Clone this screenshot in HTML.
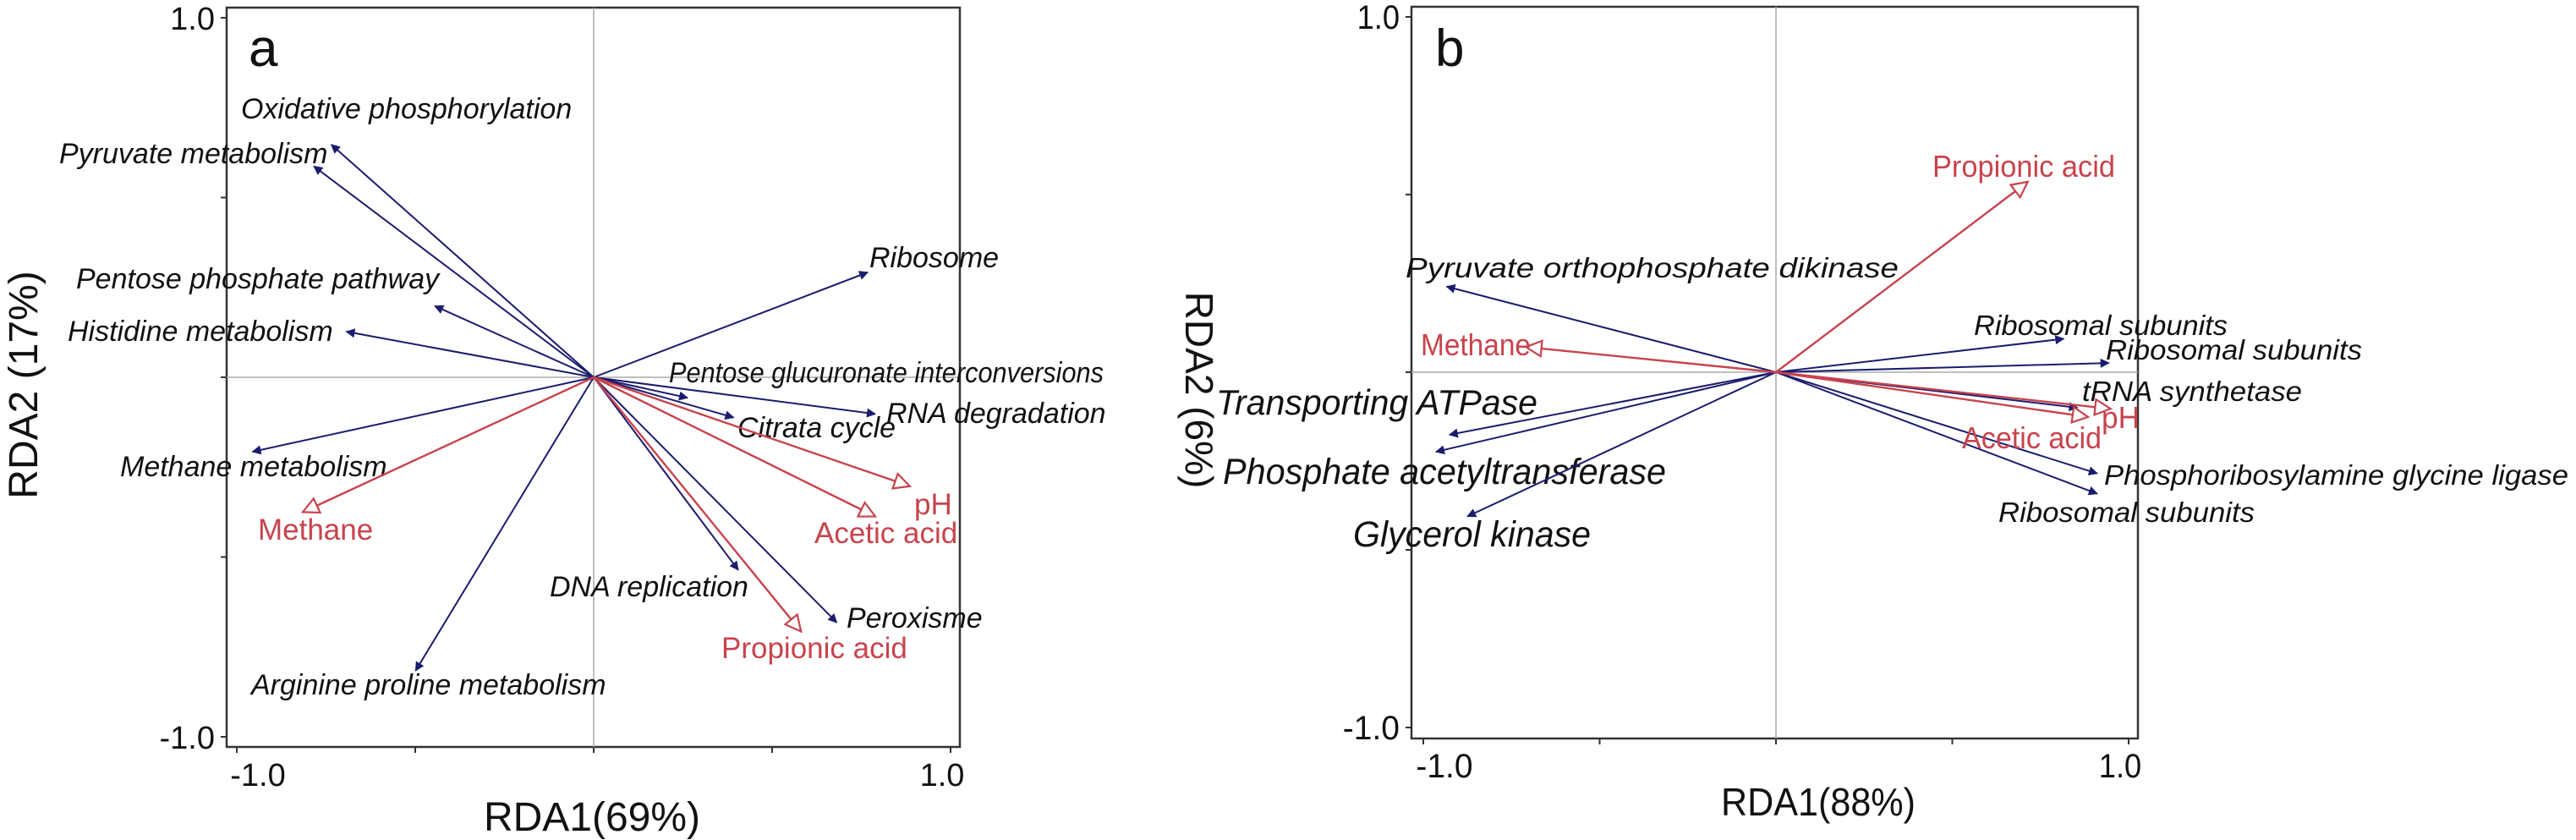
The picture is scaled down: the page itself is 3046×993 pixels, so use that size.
<!DOCTYPE html>
<html><head><meta charset="utf-8"><style>
html,body{margin:0;padding:0;background:#fff;}
svg{display:block;font-family:"Liberation Sans",sans-serif;}
</style></head><body>
<svg id="chart" width="3046" height="993" viewBox="0 0 3046 993" xmlns="http://www.w3.org/2000/svg">
<defs>
<marker id="bh" viewBox="0 0 10 10" refX="9" refY="5" markerWidth="14" markerHeight="11" markerUnits="userSpaceOnUse" orient="auto"><path d="M0,0 L10,5 L0,10 Z" fill="#1c1c6e"/></marker>
<marker id="rh" viewBox="0 0 12 12" refX="11" refY="6" markerWidth="24" markerHeight="22" markerUnits="userSpaceOnUse" orient="auto"><path d="M1,1 L11,6 L1,11 Z" fill="#fff" stroke="#c8434d" stroke-width="1.2"/></marker>
</defs>
</svg>
<script>
// Panel a data
const aBlueNames=["Oxidative phosphorylation","Pyruvate metabolism","Pentose phosphate pathway","Histidine metabolism","Ribosome","Pentose glucuronate interconversions","RNA degradation","Citrata cycle","Methane metabolism","DNA replication","Peroxisme","Arginine proline metabolism"];
const aBlueX=[-0.735,-0.784,-0.445,-0.693,0.768,0.263,0.789,0.392,-0.956,0.405,0.681,-0.499];
const aBlueY=[0.647,0.587,0.198,0.127,0.292,-0.057,-0.102,-0.112,-0.207,-0.536,-0.682,-0.816];
const aRedNames=["Methane","pH","Acetic acid","Propionic acid"];
const aRedX=[-0.815,0.886,0.789,0.581];
const aRedY=[-0.375,-0.303,-0.387,-0.707];
// Panel b data
const bBlueNames=["Pyruvate orthophosphate dikinase","Ribosomal subunits","Ribosomal subunits","tRNA synthetase","Phosphoribosylamine glycine ligase","Ribosomal subunits","Transporting ATPase","Phosphate acetyltransferase","Glycerol kinase"];
const bBlueX=[-0.934,0.816,0.944,0.855,0.911,0.911,-0.926,-0.964,-0.875];
const bBlueY=[0.241,0.094,0.026,-0.100,-0.285,-0.342,-0.176,-0.224,-0.406];
const bRedNames=["Propionic acid","Methane","pH","Acetic acid"];
const bRedX=[0.714,-0.709,0.949,0.885];
const bRedY=[0.536,0.071,-0.103,-0.126];
const tickVals=[-1,-0.5,0,0.5,1];
const tickLabels=["-1.0","1.0"];

// layout (label positions in pixels, not data)
const aBlueLab=[[285,140,0,34],[70,193,0,34],[90,341,0,34],[80,403,0,34],[1028,316,0,34],[791,452,514,34],[1048,500,0,34],[872,517,0,34],[142,563,0,34],[650,705,0,34],[1001,742,0,34],[297,821,0,34]];
const aRedLab=[[305,638,0,35],[1081,608,0,35],[963,642,0,35],[853,778,0,35]];
const bBlueLab=[[1662,328,583,33],[2334,396,300,33],[2490,425,303,33],[2462,474,260,33],[2488,573,549,33],[2363,617,303,33],[1438,490,380,42],[1446,572,524,43],[1600,646,281,43]];
const bRedLab=[[2285,209,216,36],[1680,420,130,36],[2485,506,45,36],[2320,530,165,36]];

const svg=document.getElementById('chart');
const NS='http://www.w3.org/2000/svg';
function mk(tag,attrs,parent){const e=document.createElementNS(NS,tag);for(const k in attrs)e.setAttribute(k,attrs[k]);(parent||svg).appendChild(e);return e;}

function panel(cfg){
  const g=mk('g',{});
  
  
  const sx=v=>cfg.x0+v*cfg.kx, sy=v=>cfg.y0-v*cfg.ky;
  const fr=mk('rect',{x:cfg.L,y:cfg.T,width:cfg.R-cfg.L,height:cfg.B-cfg.T,fill:'none',stroke:'#333','stroke-width':2.5},g);
  
  
  const gx=mk('line',{x1:cfg.L,x2:cfg.R,y1:sy(0),y2:sy(0),stroke:'#aaa','stroke-width':1.5},g);
  
  
  const gy=mk('line',{x1:sx(0),x2:sx(0),y1:cfg.T,y2:cfg.B,stroke:'#aaa','stroke-width':1.5},g);
  
  
  tickVals.forEach(v=>{
    const t1=mk('line',{x1:sx(v),x2:sx(v),y1:cfg.B,y2:cfg.B+7,stroke:'#333','stroke-width':2},g);
    
    
    const t2=mk('line',{x1:cfg.L-7,x2:cfg.L,y1:sy(v),y2:sy(v),stroke:'#333','stroke-width':2},g);
    
    
  });
  const tl=[[cfg.L-14,sy(1)+14,'end',tickLabels[1]],[cfg.L-14,sy(-1)+14,'end',tickLabels[0]],[sx(-1)+25,cfg.B+46,'middle',tickLabels[0]],[sx(1)-10,cfg.B+46,'middle',tickLabels[1]]];
  tl.forEach((t,i)=>{const e=mk('text',{x:t[0],y:t[1],'text-anchor':t[2],'font-size':cfg.tickFs,fill:'#111'},g);e.textContent=t[3];
    
    
    if(cfg.cond){e.setAttribute('textLength',t[3].length*cfg.tickFs*0.42);e.setAttribute('lengthAdjust','spacingAndGlyphs');}});
  const lt=mk('text',{x:cfg.letter[0],y:cfg.letter[1],'font-size':62,fill:'#111'},g);lt.textContent=cfg.letter[2];
  
  
  const xt=mk('text',{x:cfg.xt[0],y:cfg.xt[1],'text-anchor':'middle','font-size':cfg.titleFs,fill:'#111'},g);xt.textContent=cfg.xt[2];
  
  
  if(cfg.xt[3]){xt.setAttribute('textLength',cfg.xt[3]);xt.setAttribute('lengthAdjust','spacingAndGlyphs');}
  const yt=mk('text',{x:0,y:0,'text-anchor':'middle','font-size':cfg.titleFs,fill:'#111',transform:`translate(${cfg.yt[0]},${cfg.yt[1]}) rotate(${cfg.yt[3]})`},g);yt.textContent=cfg.yt[2];
  
  
  cfg.bn.forEach((n,i)=>{
    const l=mk('line',{x1:sx(0),y1:sy(0),x2:sx(cfg.bx[i]),y2:sy(cfg.by[i]),stroke:'#1c1c6e','stroke-width':2,'marker-end':'url(#bh)'},g);
    
    
    const p=cfg.bl[i];
    const t=mk('text',{x:p[0],y:p[1],'font-size':p[3],'font-style':'italic',fill:'#111'},g);t.textContent=n;
    if(p[2]){t.setAttribute('textLength',p[2]);t.setAttribute('lengthAdjust','spacingAndGlyphs');}
    
    
  });
  cfg.rn.forEach((n,i)=>{
    const l=mk('line',{x1:sx(0),y1:sy(0),x2:sx(cfg.rx[i]),y2:sy(cfg.ry[i]),stroke:'#c8434d','stroke-width':2.4,'marker-end':'url(#rh)'},g);
    
    
    const p=cfg.rl[i];
    const t=mk('text',{x:p[0],y:p[1],'font-size':p[3],fill:'#c8434d'},g);t.textContent=n;
    if(p[2]){t.setAttribute('textLength',p[2]);t.setAttribute('lengthAdjust','spacingAndGlyphs');}
    
    
  });
}
panel({name:'panel-a',L:268,R:1135,T:9,B:883,x0:702,y0:446,kx:422,ky:425,tickFs:38,titleFs:48,
  letter:[294,78,'a'],xt:[700,982,'RDA1(69%)'],yt:[44,455,'RDA2 (17%)',-90],
  bn:aBlueNames,bx:aBlueX,by:aBlueY,bl:aBlueLab,rn:aRedNames,rx:aRedX,ry:aRedY,rl:aRedLab});
panel({name:'panel-b',L:1669,R:2528,T:8,B:873,x0:2100,y0:440,kx:417,ky:420,tickFs:40,titleFs:46,cond:true,
  letter:[1697,78,'b'],xt:[2150,964,'RDA1(88%)',230],yt:[1402,461,'RDA2 (6%)',90],
  bn:bBlueNames,bx:bBlueX,by:bBlueY,bl:bBlueLab,rn:bRedNames,rx:bRedX,ry:bRedY,rl:bRedLab});
</script>
</body></html>
